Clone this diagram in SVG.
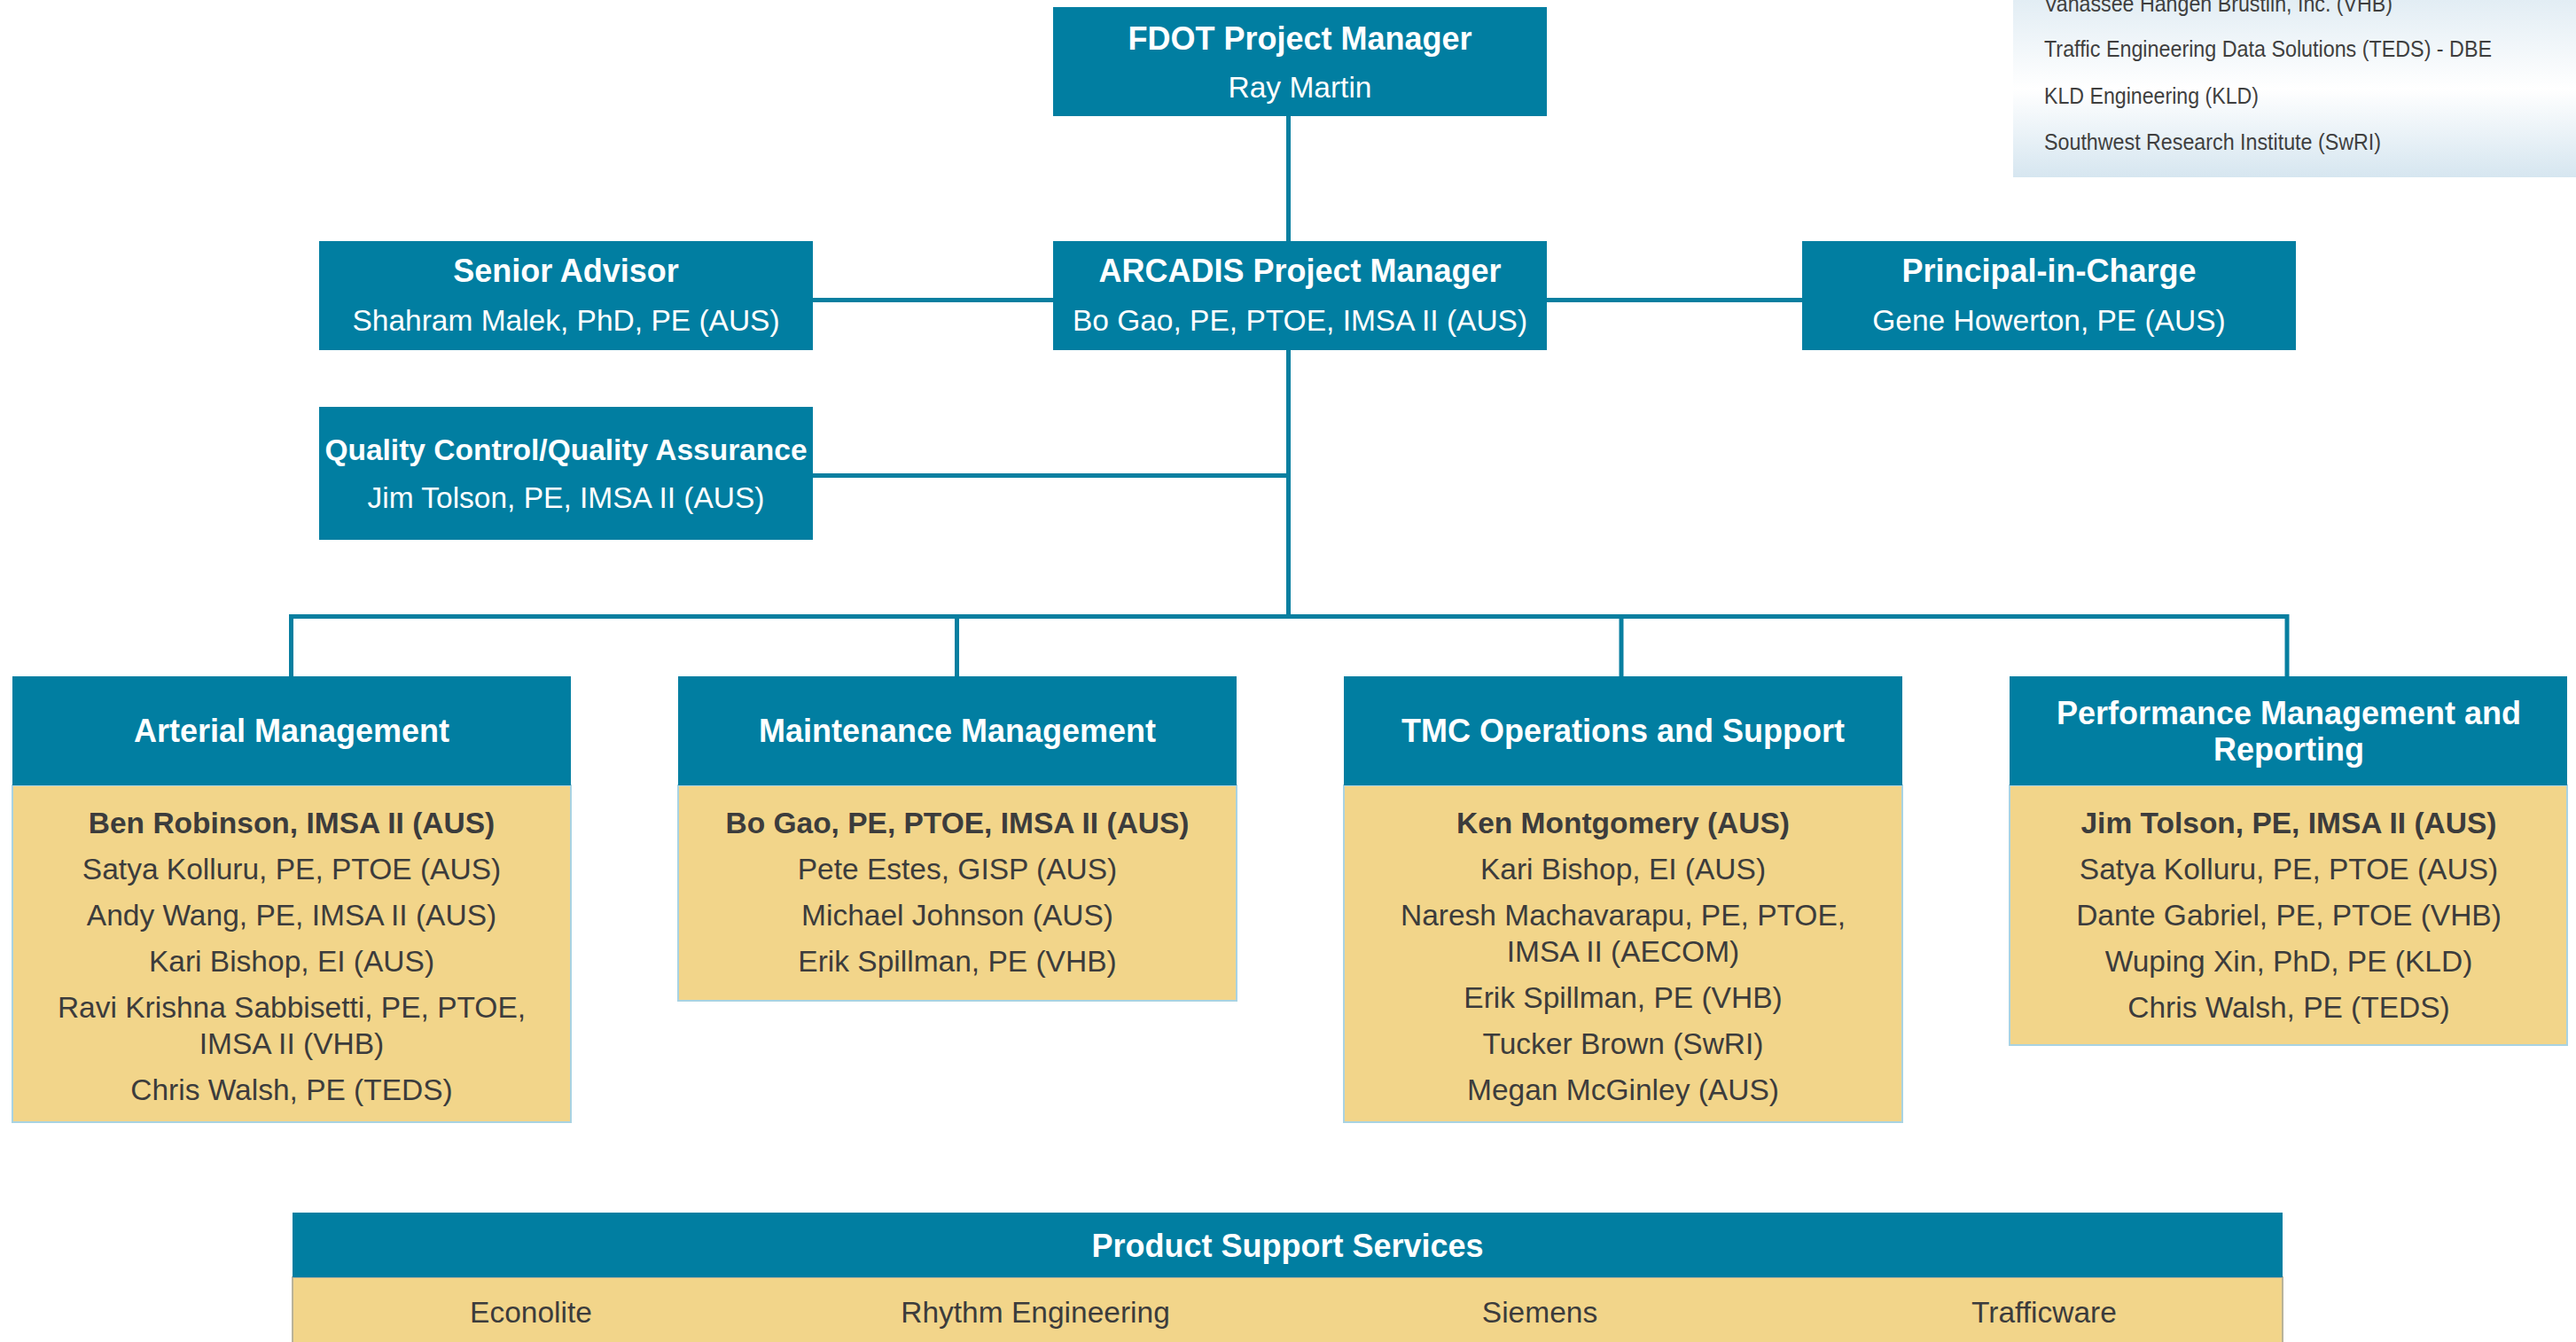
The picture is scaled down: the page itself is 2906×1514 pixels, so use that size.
<svg xmlns="http://www.w3.org/2000/svg" width="2906" height="1514" viewBox="0 0 2906 1514">
<style>
.hd{fill:#017ea1}
.bd{fill:#f2d58a;stroke:#a9d3e2;stroke-width:2}
.t{font-family:"Liberation Sans",Arial,sans-serif;font-size:36px;font-weight:bold;fill:#ffffff;text-anchor:middle}
.n{font-family:"Liberation Sans",Arial,sans-serif;font-size:33.5px;fill:#ffffff;text-anchor:middle}
.p{font-family:"Liberation Sans",Arial,sans-serif;font-size:33.5px;fill:#3c3c3c;text-anchor:middle}
.pb{font-weight:bold}
.s{font-family:"Liberation Sans",Arial,sans-serif;font-size:26px;fill:#3f3f3f}
.c{fill:none;stroke:#087fa0;stroke-width:5}
</style>
<defs>
<linearGradient id="pg" x1="0" y1="0" x2="0" y2="1">
<stop offset="0" stop-color="#e2edf4"/>
<stop offset="0.5" stop-color="#ffffff"/>
<stop offset="1" stop-color="#d6e6f0"/>
</linearGradient>
</defs>
<rect width="2906" height="1514" fill="#ffffff"/>

<g id="partners">
<rect x="2271" y="0" width="635" height="200" fill="url(#pg)"/>
<text class="s" x="2306" y="13" textLength="393" lengthAdjust="spacingAndGlyphs">Vanassee Hangen Brustlin, Inc. (VHB)</text>
<text class="s" x="2306" y="64" textLength="505" lengthAdjust="spacingAndGlyphs">Traffic Engineering Data Solutions (TEDS) - DBE</text>
<text class="s" x="2306" y="117" textLength="242" lengthAdjust="spacingAndGlyphs">KLD Engineering (KLD)</text>
<text class="s" x="2306" y="169" textLength="380" lengthAdjust="spacingAndGlyphs">Southwest Research Institute (SwRI)</text>
</g>

<g id="connectors">
<line class="c" x1="1453.5" y1="131" x2="1453.5" y2="272"/>
<line class="c" x1="917" y1="338.5" x2="1188" y2="338.5"/>
<line class="c" x1="1745" y1="338.5" x2="2033" y2="338.5"/>
<line class="c" x1="1453.5" y1="395" x2="1453.5" y2="695.5"/>
<line class="c" x1="917" y1="536.5" x2="1453.5" y2="536.5"/>
<path class="c" d="M328.5 763 V695.5 H2580 V763"/>
<line class="c" x1="1079.5" y1="695.5" x2="1079.5" y2="763"/>
<line class="c" x1="1829" y1="695.5" x2="1829" y2="763"/>
</g>

<g id="fdot">
<rect class="hd" x="1188" y="8" width="557" height="123"/>
<text class="t" x="1466.5" y="56">FDOT Project Manager</text>
<text class="n" x="1466.5" y="110">Ray Martin</text>
</g>

<g id="senior-advisor">
<rect class="hd" x="360" y="272" width="557" height="123"/>
<text class="t" x="638.5" y="318">Senior Advisor</text>
<text class="n" x="638.5" y="373">Shahram Malek, PhD, PE (AUS)</text>
</g>

<g id="arcadis">
<rect class="hd" x="1188" y="272" width="557" height="123"/>
<text class="t" x="1466.5" y="318">ARCADIS Project Manager</text>
<text class="n" x="1466.5" y="373">Bo Gao, PE, PTOE, IMSA II (AUS)</text>
</g>

<g id="principal">
<rect class="hd" x="2033" y="272" width="557" height="123"/>
<text class="t" x="2311.5" y="318">Principal-in-Charge</text>
<text class="n" x="2311.5" y="373">Gene Howerton, PE (AUS)</text>
</g>

<g id="qcqa">
<rect class="hd" x="360" y="459" width="557" height="150"/>
<text class="t" x="638.5" y="519" style="font-size:33.5px">Quality Control/Quality Assurance</text>
<text class="n" x="638.5" y="573">Jim Tolson, PE, IMSA II (AUS)</text>
</g>

<g id="arterial">
<rect class="bd" x="14" y="886" width="630" height="380"/>
<rect class="hd" x="14" y="763" width="630" height="123"/>
<text class="t" x="329" y="837">Arterial Management</text>
<text class="p pb" x="329" y="940">Ben Robinson, IMSA II (AUS)</text>
<text class="p" x="329" y="992">Satya Kolluru, PE, PTOE (AUS)</text>
<text class="p" x="329" y="1044">Andy Wang, PE, IMSA II (AUS)</text>
<text class="p" x="329" y="1096">Kari Bishop, EI (AUS)</text>
<text class="p" x="329" y="1148">Ravi Krishna Sabbisetti, PE, PTOE,</text>
<text class="p" x="329" y="1189">IMSA II (VHB)</text>
<text class="p" x="329" y="1241">Chris Walsh, PE (TEDS)</text>
</g>

<g id="maintenance">
<rect class="bd" x="765" y="886" width="630" height="243"/>
<rect class="hd" x="765" y="763" width="630" height="123"/>
<text class="t" x="1080" y="837">Maintenance Management</text>
<text class="p pb" x="1080" y="940">Bo Gao, PE, PTOE, IMSA II (AUS)</text>
<text class="p" x="1080" y="992">Pete Estes, GISP (AUS)</text>
<text class="p" x="1080" y="1044">Michael Johnson (AUS)</text>
<text class="p" x="1080" y="1096">Erik Spillman, PE (VHB)</text>
</g>

<g id="tmc">
<rect class="bd" x="1516" y="886" width="630" height="380"/>
<rect class="hd" x="1516" y="763" width="630" height="123"/>
<text class="t" x="1831" y="837">TMC Operations and Support</text>
<text class="p pb" x="1831" y="940">Ken Montgomery (AUS)</text>
<text class="p" x="1831" y="992">Kari Bishop, EI (AUS)</text>
<text class="p" x="1831" y="1044">Naresh Machavarapu, PE, PTOE,</text>
<text class="p" x="1831" y="1085">IMSA II (AECOM)</text>
<text class="p" x="1831" y="1137">Erik Spillman, PE (VHB)</text>
<text class="p" x="1831" y="1189">Tucker Brown (SwRI)</text>
<text class="p" x="1831" y="1241">Megan McGinley (AUS)</text>
</g>

<g id="performance">
<rect class="bd" x="2267" y="886" width="629" height="293"/>
<rect class="hd" x="2267" y="763" width="629" height="123"/>
<text class="t" x="2582" y="817">Performance Management and</text>
<text class="t" x="2582" y="858">Reporting</text>
<text class="p pb" x="2582" y="940">Jim Tolson, PE, IMSA II (AUS)</text>
<text class="p" x="2582" y="992">Satya Kolluru, PE, PTOE (AUS)</text>
<text class="p" x="2582" y="1044">Dante Gabriel, PE, PTOE (VHB)</text>
<text class="p" x="2582" y="1096">Wuping Xin, PhD, PE (KLD)</text>
<text class="p" x="2582" y="1148">Chris Walsh, PE (TEDS)</text>
</g>

<g id="product-support">
<rect class="bd" x="330" y="1441" width="2245" height="80" style="stroke:#b9b39a"/>
<rect class="hd" x="330" y="1368" width="2245" height="73"/>
<text class="t" x="1452.5" y="1418">Product Support Services</text>
<text class="p" x="599" y="1492">Econolite</text>
<text class="p" x="1168" y="1492">Rhythm Engineering</text>
<text class="p" x="1737" y="1492">Siemens</text>
<text class="p" x="2306" y="1492">Trafficware</text>
</g>
</svg>
